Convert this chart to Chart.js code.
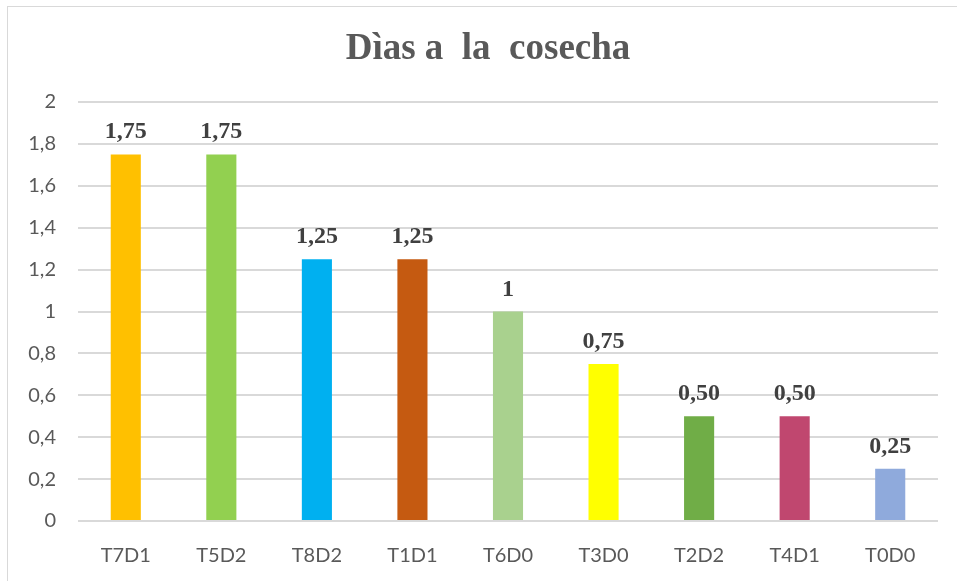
<!DOCTYPE html>
<html>
<head>
<meta charset="utf-8">
<script src="https://cdn.jsdelivr.net/npm/chart.js@4"></script>
<style>
  html, body { margin: 0; padding: 0; background: #fff; }
  #wrap { position: relative; width: 957px; height: 581px; overflow: hidden; }
  #frame { position: absolute; left: 7px; top: 6px; width: 1000px; height: 1000px;
           border-top: 1px solid #d9d9d9; border-left: 1px solid #d9d9d9; }
  #chart { position: absolute; left: 0; top: 0; }
</style>
</head>
<body>
<div id="wrap">
  <div id="frame"></div>
  <canvas id="chart" width="957" height="581"></canvas>
</div>
<script>
// Data
const chartTitle = "Dìas a  la  cosecha";
const categories = ["T7D1", "T5D2", "T8D2", "T1D1", "T6D0", "T3D0", "T2D2", "T4D1", "T0D0"];
const values = [1.75, 1.75, 1.25, 1.25, 1, 0.75, 0.5, 0.5, 0.25];
const valueLabels = ["1,75", "1,75", "1,25", "1,25", "1", "0,75", "0,50", "0,50", "0,25"];
const barColors = ["#FFC000", "#92D050", "#00B0F0", "#C55A11", "#A9D18E", "#FFFF00", "#70AD47", "#C0476F", "#8FAADC"];

// Title centred on the outer frame, not on the canvas
const frameTitle = {
  id: "frameTitle",
  afterDraw(chart) {
    const ctx = chart.ctx;
    ctx.save();
    ctx.font = "bold 37px 'Liberation Serif', 'Times New Roman', serif";
    ctx.fillStyle = "#595959";
    ctx.textAlign = "center";
    ctx.textBaseline = "middle";
    ctx.fillText(chartTitle, 488, 49);
    ctx.restore();
  },
};

// Simple plugin to print the values above the bars
const barLabels = {
  id: "barLabels",
  afterDatasetsDraw(chart) {
    const ctx = chart.ctx;
    const meta = chart.getDatasetMeta(0);
    ctx.save();
    ctx.font = "bold 24px 'Liberation Serif', 'Times New Roman', serif";
    ctx.fillStyle = "#404040";
    ctx.textAlign = "center";
    ctx.textBaseline = "alphabetic";
    meta.data.forEach((bar, i) => {
      ctx.fillText(valueLabels[i], bar.x, bar.y - 16);
    });
    ctx.restore();
  },
};

new Chart(document.getElementById("chart"), {
  type: "bar",
  data: {
    labels: categories,
    datasets: [
      {
        data: values,
        backgroundColor: barColors,
        categoryPercentage: 1,
        barPercentage: 0.315,
      },
    ],
  },
  options: {
    responsive: false,
    animation: false,
    layout: { padding: { left: 0, right: 19, top: 102, bottom: 0 } },
    plugins: {
      legend: { display: false },
      tooltip: { enabled: false },
      title: { display: false },
    },
    scales: {
      x: {
        grid: { display: false },
        border: { display: false },
        ticks: {
          color: "#595959",
          font: { family: "Lato, 'Open Sans', sans-serif", size: 20 },
          padding: 15,
        },
        afterFit: (scale) => { scale.height = 60; },
      },
      y: {
        min: 0,
        max: 2,
        grid: { color: "#d9d9d9", lineWidth: 2, drawTicks: false },
        border: { display: false },
        ticks: {
          stepSize: 0.2,
          color: "#595959",
          padding: 22,
          font: { family: "Lato, 'Open Sans', sans-serif", size: 20 },
          callback: (v) => (Math.round(v * 10) / 10).toString().replace(".", ","),
        },
        afterFit: (scale) => { scale.width = 78; },
      },
    },
  },
  plugins: [barLabels, frameTitle],
});
</script>
</body>
</html>
